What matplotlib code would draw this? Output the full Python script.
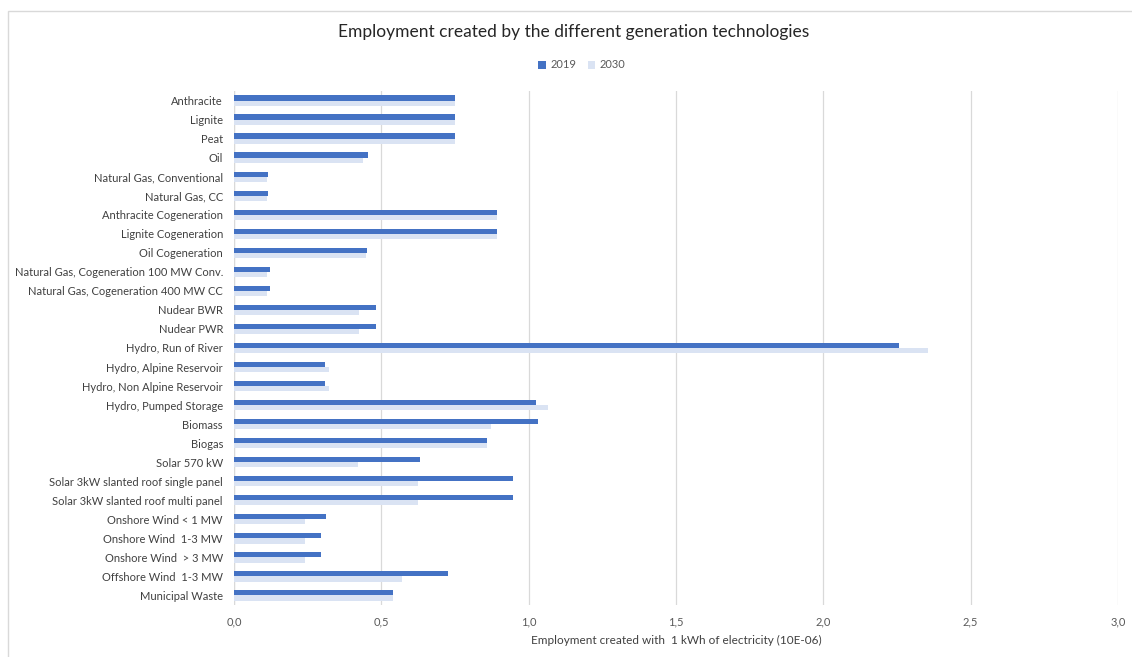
import matplotlib.pyplot as plt
from matplotlib.patches import Rectangle
from matplotlib.ticker import FuncFormatter
import numpy as np

plt.rcParams['font.family'] = ['Lato', 'DejaVu Sans']

# technologies, top to bottom
technologies = [
    "Anthracite", "Lignite", "Peat", "Oil",
    "Natural Gas, Conventional", "Natural Gas, CC",
    "Anthracite Cogeneration", "Lignite Cogeneration", "Oil Cogeneration",
    "Natural Gas, Cogeneration 100 MW Conv.",
    "Natural Gas, Cogeneration 400 MW CC",
    "Nudear BWR", "Nudear PWR",
    "Hydro, Run of River", "Hydro, Alpine Reservoir",
    "Hydro, Non Alpine Reservoir", "Hydro, Pumped Storage",
    "Biomass", "Biogas", "Solar 570 kW",
    "Solar 3kW slanted roof single panel",
    "Solar 3kW slanted roof multi panel",
    "Onshore Wind < 1 MW", "Onshore Wind  1-3 MW", "Onshore Wind  > 3 MW",
    "Offshore Wind  1-3 MW", "Municipal Waste",
]

# employment per kWh (10E-06)
jobs_2019 = [0.75, 0.75, 0.75, 0.456, 0.117, 0.117, 0.892, 0.892, 0.451,
             0.122, 0.122, 0.483, 0.483, 2.258, 0.310, 0.310, 1.025,
             1.030, 0.858, 0.630, 0.947, 0.947, 0.313, 0.295, 0.295,
             0.726, 0.538]
jobs_2030 = [0.75, 0.75, 0.75, 0.438, 0.112, 0.112, 0.892, 0.892, 0.448,
             0.112, 0.112, 0.424, 0.424, 2.354, 0.322, 0.322, 1.065,
             0.872, 0.860, 0.420, 0.626, 0.626, 0.241, 0.241, 0.241,
             0.570, 0.538]

c2019 = "#4472C4"
c2030 = "#DAE3F3"

fig = plt.figure(figsize=(11.32, 6.57), dpi=100)
ax = fig.add_axes([234 / 1132, 1 - 605 / 657, (1118 - 234) / 1132, (605 - 91) / 657])

y = np.arange(len(technologies))
h = 0.27
ax.barh(y - h / 2, jobs_2019, height=h, color=c2019, label="2019", zorder=3)
ax.barh(y + h / 2, jobs_2030, height=h, color=c2030, label="2030", zorder=2)

ax.set_ylim(len(technologies) - 0.5, -0.5)
ax.set_xlim(0, 3.0)
ax.set_xticks(np.arange(0, 3.01, 0.5))
ax.xaxis.set_major_formatter(FuncFormatter(lambda v, p: f"{v:.1f}".replace(".", ",")))
ax.set_yticks(y)
ax.set_yticklabels(technologies)
ax.tick_params(axis="both", length=0, labelsize=8, colors="#404040")
ax.tick_params(axis="x", pad=8, colors="#595959")
ax.tick_params(axis="y", pad=8)
ax.grid(axis="x", color="#D9D9D9", linewidth=0.9, zorder=0)
for s in ax.spines.values():
    s.set_visible(False)
ax.axvline(0, color="#D9D9D9", linewidth=0.9, zorder=1)

ax.set_xlabel("Employment created with  1 kWh of electricity (10E-06)",
              fontsize=8.5, color="#404040", labelpad=6)

fig.text(574 / 1132, 1 - 32 / 657,
         "Employment created by the different generation technologies",
         ha="center", va="center", fontsize=12.5, color="#262626")

fig.legend(loc="center", bbox_to_anchor=(582 / 1132, 1 - 65 / 657), ncol=2,
           frameon=False, fontsize=8, handlelength=0.7, handleheight=0.7,
           columnspacing=1.0, handletextpad=0.4, labelcolor="#595959")

fig.patches.append(Rectangle((8 / 1132, -0.01), 1.0, 1 - 11 / 657 + 0.01,
                             transform=fig.transFigure, fill=False,
                             edgecolor="#D9D9D9", linewidth=1.0))

fig.savefig("out.png", dpi=100)
